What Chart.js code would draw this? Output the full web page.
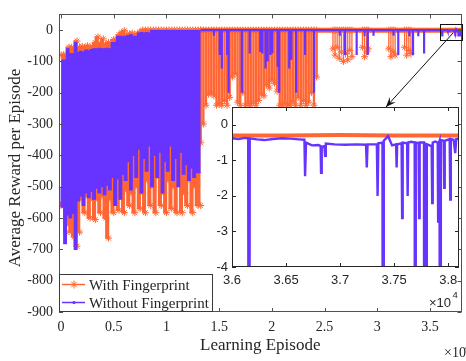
<!DOCTYPE html>
<html><head><meta charset="utf-8">
<script src="https://cdn.jsdelivr.net/npm/chart.js@4.4.0/dist/chart.umd.min.js"></script>
<style>
html,body{margin:0;padding:0;background:#fff;}
#wrap{position:relative;width:466px;height:361px;overflow:hidden;}
canvas{position:absolute;left:0;top:0;}
</style>
</head><body>
<div id="wrap"><canvas id="main" width="466" height="361"></canvas><canvas id="inset" width="466" height="361"></canvas></div>
<script>
// ---------------- data ----------------
// dense early phase (episodes 0 - 13250): envelopes of the two noisy curves
const denseEpisodes = [0,250,500,750,1000,1250,1500,1750,2000,2250,2500,2750,3000,3250,3500,3750,4000,4250,4500,4750,5000,5250,5500,5750,6000,6250,6500,6750,7000,7250,7500,7750,8000,8250,8500,8750,9000,9250,9500,9750,10000,10250,10500,10750,11000,11250,11500,11750,12000,12250,12500,12750,13000,13250];
const withTop = [-80,-78,-82,-55,-55,-58,-35,-55,-52,-55,-50,-55,-52,-40,-22,-42,-28,-45,-40,-48,-30,-32,-15,-8,-2,-15,-12,-10,-14,-12,-5,0,0,0,0,0,0,0,0,0,0,0,0,0,0,0,0,0,0,0,0,0,0,0];
const withBottom = [-560,-550,-645,-620,-645,-660,-690,-645,-540,-583,-530,-600,-540,-605,-540,-583,-530,-600,-664,-540,-583,-530,-575,-520,-583,-510,-560,-520,-583,-500,-570,-520,-583,-480,-560,-500,-583,-470,-560,-520,-583,-480,-570,-500,-583,-470,-583,-520,-560,-480,-583,-500,-560,-560];
const withoutTop = [-96,-96,-96,-60,-76,-76,-40,-72,-68,-70,-64,-66,-62,-60,-60,-58,-60,-60,-58,-60,-40,-40,-20,-20,-22,-20,-18,-15,-20,-20,-10,-8,-10,-8,-10,-2,-2,-2,-2,-2,-2,-2,-2,-2,-2,-2,-2,-2,-2,-2,-2,-2,-2,-2];
const withoutBottom = [-500,-565,-682,-590,-600,-585,-700,-545,-530,-560,-520,-535,-515,-540,-505,-520,-500,-525,-495,-510,-470,-560,-475,-540,-460,-480,-420,-510,-400,-470,-380,-520,-410,-450,-370,-500,-400,-470,-390,-520,-420,-450,-370,-480,-410,-500,-390,-460,-430,-480,-440,-470,-455,-455];

// plateau levels after convergence
const withPlateau = -0.3;
const withoutPlateau = -0.4;

// "With Fingerprint": burst of drops (13250 - 24250) and later dips
const withBurstEpisodes = [13250,13500,13750,14000,14250,14500,14750,15000,15250,15500,15750,16000,16250,16500,16750,17000,17250,17500,17750,18000,18250,18500,18750,19000,19250,19500,19750,20000,20250,20500,20750,21000,21250,21500,21750,22000,22250,22500,22750,23000,23250,23500,23750,24000,24250];
const withBurstRewards = [-360,-300,-240,-205,-200,-210,-240,-235,-240,-225,-240,-215,-150,-140,-230,-240,-200,-240,-235,-240,-230,-240,-225,-205,-210,-175,-185,-160,-170,-195,-240,-240,-235,-240,-240,-230,-240,-215,-240,-225,-240,-230,-200,-240,-150];
const withDipEpisodes = [25800,26000,26200,26400,26600,26800,27000,27200,27400,27600,28600,28800,29000,29150,31100,31300,31500,31700,32600,32800,33000,33200];
const withDipRewards = [-60,-80,-55,-90,-70,-100,-75,-95,-65,-85,-55,-85,-70,-60,-60,-85,-70,-80,-55,-80,-65,-75];

// "Without Fingerprint": isolated drops after convergence
const withoutSpikeEpisodes = [14500,15050,15250,15750,15900,17150,17900,18900,19100,19400,19600,19850,20050,20550,20700,21650,21850,22300,23150,24000,26450,26950,28050,28800,29100,29650,31550,32000,33050,33400,33900,34450];
const withoutSpikeRewards = [-18,-80,-123,-80,-200,-200,-75,-70,-75,-123,-100,-80,-75,-117,-200,-123,-95,-200,-80,-200,-18,-80,-80,-20,-80,-18,-18,-80,-20,-80,-20,-75];

// zoomed tail (episodes 36000 - 38100)
const insetEpisodes = [36000,36060,36120,36150,36157,36164,36230,36300,36380,36460,36540,36620,36670,36676,36685,36740,36800,36820,36824,36830,36855,36861,36868,36950,37050,37150,37240,37247,37254,37340,37347,37354,37392,37398,37404,37444,37481,37518,37523,37528,37569,37574,37579,37620,37625,37630,37657,37690,37694,37700,37726,37731,37736,37776,37780,37788,37796,37802,37847,37852,37857,37880,37903,37907,37912,37920,37926,37932,37958,37963,37968,38014,38019,38024,38050,38065,38075,38100];
const insetWithout = [-0.38,-0.40,-0.37,-0.38,-20,-0.38,-0.41,-0.43,-0.40,-0.38,-0.39,-0.41,-0.42,-1.45,-0.50,-0.58,-0.57,-0.60,-1.35,-0.62,-0.60,-0.87,-0.53,-0.55,-0.56,-0.55,-0.56,-1.20,-0.55,-0.55,-2.00,-0.52,-0.50,-20,-0.45,-0.32,-0.58,-0.55,-1.20,-0.55,-0.52,-2.62,-0.50,-0.52,-2.00,-0.50,-0.48,-0.50,-20,-0.50,-0.52,-2.62,-0.50,-0.50,-20,-0.50,-20,-0.55,-0.60,-2.20,-0.50,-0.47,-0.50,-2.72,-0.52,-0.45,-20,-0.43,-0.45,-1.77,-0.45,-0.40,-2.10,-0.40,-0.42,-0.80,-0.40,-0.39];
const insetWithEpisodes = [36000,36500,37000,37500,38000,38100];
const insetWith = [-0.30,-0.30,-0.29,-0.30,-0.30,-0.30];

// ticks
const xTickValues = [0,5000,10000,15000,20000,25000,30000,35000];
const xTickLabels = ['0','0.5','1','1.5','2','2.5','3','3.5'];
const yTickValues = [-900,-800,-700,-600,-500,-400,-300,-200,-100,0];
const yTickLabels = ['-900','-800','-700','-600','-500','-400','-300','-200','-100','0'];
const insetXTickValues = [36000,36500,37000,37500,38000];
const insetXTickLabels = ['3.6','3.65','3.7','3.75','3.8'];
const insetYTickValues = [-4,-3,-2,-1,0];
const insetYTickLabels = ['-4','-3','-2','-1','0'];
const seriesNames = ['With Fingerprint','Without Fingerprint'];

// ---------------- styling ----------------
const ORANGE = '#FF6633';
const BLUE = '#6633FF';
const INK = '#262626';
const SERIF = '"Liberation Serif","Times New Roman",serif';
const SANS = '"Liberation Sans",Arial,sans-serif';

const pts = (xs, ys) => xs.map((x, i) => ({x, y: ys[i]}));
function spikeSegments(xs, ys, base) {
  const out = [];
  xs.forEach((x, i) => { out.push({x, y: base}, {x, y: ys[i]}, {x, y: null}); });
  return out;
}
const lastDense = denseEpisodes[denseEpisodes.length - 1];

const withoutLate = [{x: lastDense, y: withoutPlateau}];
withoutSpikeEpisodes.forEach((x, i) => {
  withoutLate.push({x, y: withoutPlateau}, {x, y: withoutSpikeRewards[i]}, {x, y: withoutPlateau});
});
insetEpisodes.forEach((x, i) => withoutLate.push({x, y: insetWithout[i]}));

const withLine = [{x: lastDense, y: withPlateau}].concat(pts(insetWithEpisodes, insetWith));
const withBurst = spikeSegments(withBurstEpisodes, withBurstRewards, withPlateau);
const withDips = spikeSegments(withDipEpisodes, withDipRewards, withPlateau);

const starPts = {pointStyle: 'star', pointRadius: 3.5, pointBorderWidth: 1, pointBorderColor: ORANGE, pointBackgroundColor: ORANGE, pointHoverRadius: 0};
const noPts = {pointRadius: 0, pointHoverRadius: 0};

function drawTicksBox(ctx, a, xs, xv, ys, yv, len, color) {
  ctx.save();
  ctx.strokeStyle = color; ctx.lineWidth = 1;
  ctx.strokeRect(Math.round(a.left) + 0.5, Math.round(a.top) + 0.5, Math.round(a.right - a.left) - 1, Math.round(a.bottom - a.top) - 1);
  ctx.beginPath();
  xv.forEach(v => {
    const p = Math.round(xs.getPixelForValue(v)) + 0.5;
    ctx.moveTo(p, a.bottom); ctx.lineTo(p, a.bottom - len);
    ctx.moveTo(p, a.top); ctx.lineTo(p, a.top + len);
  });
  yv.forEach(v => {
    const p = Math.round(ys.getPixelForValue(v)) + 0.5;
    ctx.moveTo(a.left, p); ctx.lineTo(a.left + len, p);
    ctx.moveTo(a.right, p); ctx.lineTo(a.right - len, p);
  });
  ctx.stroke();
  ctx.restore();
}

const mainDecor = {
  id: 'mainDecor',
  afterDraw(chart) {
    const {ctx, chartArea: a, scales: {x, y}} = chart;
    drawTicksBox(ctx, a, x, xTickValues, y, yTickValues, 4, '#505050');
    ctx.save();
    // legend
    const lx0 = a.left, ly0 = 274, lx1 = 213, ly1 = a.bottom;
    ctx.fillStyle = '#fff';
    ctx.fillRect(lx0, ly0, lx1 - lx0, ly1 - ly0);
    ctx.strokeStyle = '#3a3a3a'; ctx.lineWidth = 1;
    ctx.strokeRect(lx0 + 0.5, ly0 + 0.5, lx1 - lx0 - 1, ly1 - ly0 - 1);
    const rows = [284.5, 302.5];
    ctx.lineWidth = 1.5;
    ctx.strokeStyle = ORANGE;
    ctx.beginPath(); ctx.moveTo(62, rows[0]); ctx.lineTo(85, rows[0]); ctx.stroke();
    ctx.lineWidth = 1;
    Chart.helpers.drawPoint(ctx, {pointStyle: 'star', radius: 4, borderWidth: 1}, 74, rows[0]);
    ctx.strokeStyle = BLUE; ctx.lineWidth = 1.5;
    ctx.beginPath(); ctx.moveTo(62, rows[1]); ctx.lineTo(85, rows[1]); ctx.stroke();
    ctx.fillStyle = BLUE;
    ctx.beginPath(); ctx.arc(74, rows[1], 1.6, 0, Math.PI * 2); ctx.fill();
    ctx.fillStyle = INK;
    ctx.font = '15px ' + SERIF;
    ctx.textAlign = 'left'; ctx.textBaseline = 'alphabetic';
    ctx.fillText(seriesNames[0], 89, 289.5);
    ctx.fillText(seriesNames[1], 89, 307.5);
    // axis titles
    ctx.font = '17px ' + SERIF;
    ctx.textAlign = 'center';
    ctx.fillText('Learning Episode', (a.left + a.right) / 2, 350);
    ctx.save();
    ctx.translate(20, 168); ctx.rotate(-Math.PI / 2);
    ctx.fillText('Average Reward per Episode', 0, 0);
    ctx.restore();
    // exponent
    ctx.textAlign = 'left';
    ctx.font = '14px ' + SERIF;
    ctx.fillText('\u00d710', 444, 357);
    ctx.font = '10px ' + SERIF;
    ctx.fillText('4', 465, 350);
    ctx.restore();
  }
};

const mainChart = new Chart(document.getElementById('main'), {
  type: 'line',
  data: {
    datasets: [
      Object.assign({label: 'withTop', data: pts(denseEpisodes, withTop), stepped: 'after', borderColor: ORANGE, borderWidth: 1.5, backgroundColor: ORANGE, fill: 1, order: 10}, starPts),
      Object.assign({label: 'withBottom', data: pts(denseEpisodes, withBottom), stepped: 'after', borderColor: ORANGE, borderWidth: 1.5, fill: false, order: 9}, starPts),
      Object.assign({label: 'withBurst', data: withBurst, borderColor: ORANGE, borderWidth: 2.4, fill: false, spanGaps: false, order: 8}, starPts),
      Object.assign({label: 'withDips', data: withDips, borderColor: ORANGE, borderWidth: 1.3, fill: false, spanGaps: false, order: 8}, starPts),
      Object.assign({label: 'withLine', data: withLine, borderColor: ORANGE, borderWidth: 5, fill: false, order: 7}, noPts),
      Object.assign({label: 'withoutTop', data: pts(denseEpisodes, withoutTop), stepped: 'after', borderColor: BLUE, borderWidth: 1.2, backgroundColor: BLUE, fill: 6, order: 6}, noPts),
      Object.assign({label: 'withoutBottom', data: pts(denseEpisodes, withoutBottom), stepped: 'after', borderColor: BLUE, borderWidth: 1.2, fill: false, order: 5}, noPts),
      Object.assign({label: 'withoutLate', data: withoutLate, borderColor: BLUE, borderWidth: 2.2, fill: false, order: 4}, noPts)
    ]
  },
  options: {
    responsive: false, animation: false, devicePixelRatio: 1, events: [],
    layout: {padding: {left: 0, right: 1, top: 6, bottom: 0}},
    plugins: {legend: {display: false}, tooltip: {enabled: false}},
    scales: {
      x: {
        type: 'linear', min: -200, max: 38000,
        grid: {display: false, drawTicks: false}, border: {display: false},
        afterBuildTicks: s => { s.ticks = xTickValues.map(v => ({value: v})); },
        afterFit: s => { s.height = 49; },
        ticks: {autoSkip: false, maxRotation: 0, padding: 7, color: INK, font: {family: SERIF, size: 14}, callback: (v, i) => xTickLabels[i]}
      },
      y: {
        type: 'linear', min: -900, max: 50,
        grid: {display: false, drawTicks: false}, border: {display: false},
        afterBuildTicks: s => { s.ticks = yTickValues.map(v => ({value: v})); },
        afterFit: s => { s.width = 59; },
        ticks: {autoSkip: false, padding: 6, color: INK, font: {family: SERIF, size: 14}, callback: (v, i) => yTickLabels[i]}
      }
    }
  },
  plugins: [mainDecor]
});

const insetDecor = {
  id: 'insetDecor',
  beforeDraw(chart) {
    const {ctx, chartArea: a} = chart;
    ctx.save(); ctx.fillStyle = '#fff';
    ctx.fillRect(a.left, a.top, a.right - a.left, a.bottom - a.top);
    ctx.restore();
  },
  afterDraw(chart) {
    const {ctx, chartArea: a, scales: {x, y}} = chart;
    drawTicksBox(ctx, a, x, insetXTickValues, y, insetYTickValues, 4, INK);
    ctx.save();
    ctx.fillStyle = INK;
    ctx.font = '13px ' + SANS;
    ctx.textAlign = 'right'; ctx.textBaseline = 'alphabetic';
    ctx.fillText('\u00d710', 451, 307);
    ctx.textAlign = 'left';
    ctx.font = '9.5px ' + SANS;
    ctx.fillText('4', 452.5, 298);
    // zoom box on the main axes
    const mx = mainChart.scales.x, my = mainChart.scales.y;
    const bx0 = mx.getPixelForValue(36000), bx1 = mx.getPixelForValue(38100);
    const by0 = my.getPixelForValue(20), by1 = my.getPixelForValue(-30);
    ctx.strokeStyle = '#111'; ctx.lineWidth = 1;
    ctx.strokeRect(Math.round(bx0) + 0.5, Math.round(by0) + 0.5, Math.round(bx1 - bx0), Math.round(by1 - by0));
    // arrow
    const sx = 453, sy = 33, ex = 386, ey = a.top;
    ctx.beginPath(); ctx.moveTo(sx, sy); ctx.lineTo(ex, ey); ctx.stroke();
    const ang = Math.atan2(ey - sy, ex - sx);
    const L = 10, W = 4;
    const bxp = ex - L * Math.cos(ang), byp = ey - L * Math.sin(ang);
    const nx = -Math.sin(ang), ny = Math.cos(ang);
    const notchX = ex - 0.6 * L * Math.cos(ang), notchY = ey - 0.6 * L * Math.sin(ang);
    ctx.fillStyle = '#111';
    ctx.beginPath();
    ctx.moveTo(ex, ey);
    ctx.lineTo(bxp + nx * W, byp + ny * W);
    ctx.lineTo(notchX, notchY);
    ctx.lineTo(bxp - nx * W, byp - ny * W);
    ctx.closePath(); ctx.fill();
    ctx.restore();
  }
};

new Chart(document.getElementById('inset'), {
  type: 'line',
  data: {
    datasets: [
      Object.assign({label: 'insetWithout', data: pts(insetEpisodes, insetWithout), borderColor: BLUE, borderWidth: 2.4, fill: false, order: 1}, noPts),
      Object.assign({label: 'insetWith', data: pts(insetWithEpisodes, insetWith), borderColor: ORANGE, borderWidth: 4, fill: false, order: 2}, noPts)
    ]
  },
  options: {
    responsive: false, animation: false, devicePixelRatio: 1, events: [],
    layout: {padding: {left: 202, right: 7, top: 107, bottom: 64}},
    plugins: {legend: {display: false}, tooltip: {enabled: false}},
    scales: {
      x: {
        type: 'linear', min: 36000, max: 38100,
        grid: {display: false, drawTicks: false}, border: {display: false},
        afterBuildTicks: s => { s.ticks = insetXTickValues.map(v => ({value: v})); },
        afterFit: s => { s.height = 30; },
        ticks: {autoSkip: false, maxRotation: 0, padding: 6, color: INK, font: {family: SANS, size: 13}, callback: (v, i) => insetXTickLabels[i]}
      },
      y: {
        type: 'linear', min: -4, max: 0.5,
        grid: {display: false, drawTicks: false}, border: {display: false},
        afterBuildTicks: s => { s.ticks = insetYTickValues.map(v => ({value: v})); },
        afterFit: s => { s.width = 30; },
        ticks: {autoSkip: false, padding: 4, color: INK, font: {family: SANS, size: 13}, callback: (v, i) => insetYTickLabels[i]}
      }
    }
  },
  plugins: [insetDecor]
});
</script>
</body></html>
